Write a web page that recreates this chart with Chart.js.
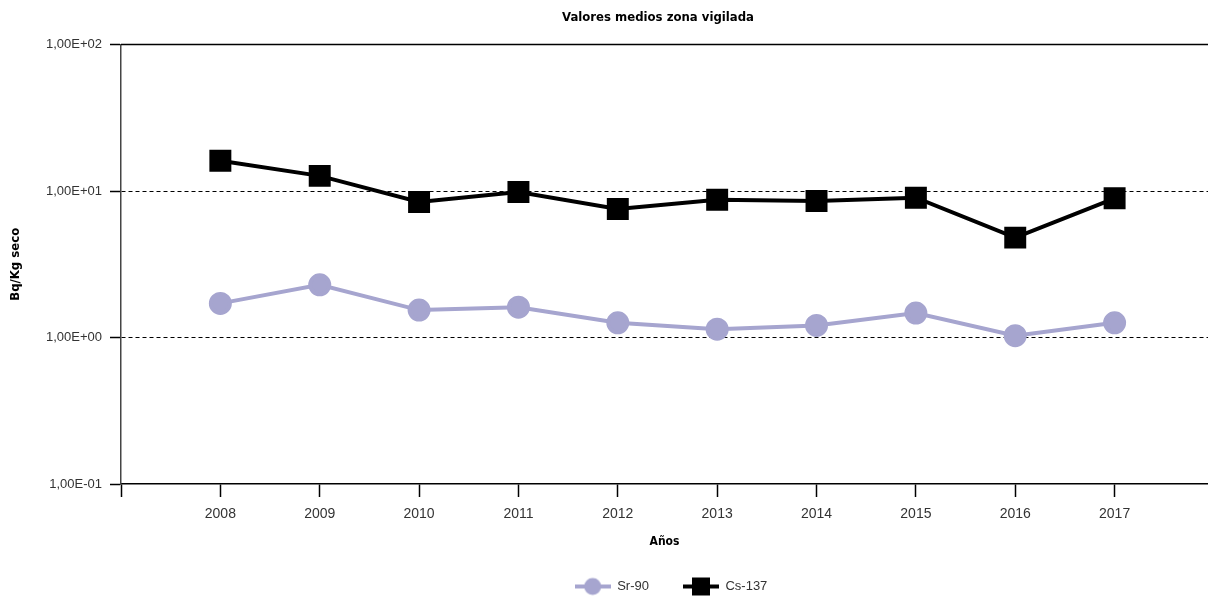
<!DOCTYPE html>
<html>
<head>
<meta charset="utf-8">
<script src="https://cdn.jsdelivr.net/npm/chart.js@4"></script>
<style>
  html, body { margin: 0; padding: 0; background: #fff; overflow: hidden; }
  #wrap { width: 1208px; height: 596px; position: relative; }
  canvas { display: block; }
</style>
</head>
<body>
<div id="wrap"><canvas id="chart"></canvas></div>
<script>
// data
const years = [2008, 2009, 2010, 2011, 2012, 2013, 2014, 2015, 2016, 2017];
const sr90 = [1.71, 2.29, 1.54, 1.61, 1.26, 1.14, 1.21, 1.47, 1.03, 1.26];
const cs137 = [16.1, 12.7, 8.42, 9.85, 7.55, 8.73, 8.55, 9.0, 4.81, 8.92];
const yTicks = [0.1, 1, 10, 100];
const xTicks = [2007, 2008, 2009, 2010, 2011, 2012, 2013, 2014, 2015, 2016, 2017];

const srColor = '#a6a5cf';
const narrow = "'Liberation Sans Narrow', 'DejaVu Sans Condensed', sans-serif";
const plain = "'Liberation Sans', sans-serif";

// little line + marker pictures for the legend
function legendIcon(color, shape) {
  const c = document.createElement('canvas');
  c.width = 36; c.height = 20;
  const g = c.getContext('2d');
  g.strokeStyle = color;
  g.lineWidth = 4;
  g.beginPath(); g.moveTo(0, 10); g.lineTo(36, 10); g.stroke();
  g.fillStyle = color;
  if (shape === 'circle') {
    g.beginPath(); g.arc(18, 10, 8.5, 0, Math.PI * 2); g.fill();
  } else {
    g.fillRect(9, 1, 18, 18);
  }
  return c;
}
const icons = [legendIcon(srColor, 'circle'), legendIcon('#000', 'rect')];

function toPoints(vals) {
  return years.map((y, i) => ({ x: y, y: vals[i] }));
}

function sci(v) {
  const e = Math.round(Math.log10(v));
  const sign = e < 0 ? '-' : '+';
  return '1,00E' + sign + String(Math.abs(e)).padStart(2, '0');
}

const tweaks = {
  id: 'tweaks',
  afterLayout(chart) {
    // title and legend in the reference sit right of the canvas centre
    if (chart.legend) {
      chart.legend.left += 67;
      chart.legend.right += 67;
    }
    if (chart.titleBlock) {
      chart.titleBlock.left += 54;
      chart.titleBlock.right += 54;
    }
  },
  afterDraw(chart) {
    const { ctx, chartArea } = chart;
    ctx.save();
    ctx.strokeStyle = '#000';
    ctx.lineWidth = 1.5;
    ctx.beginPath();
    ctx.moveTo(chartArea.left, chartArea.top);
    ctx.lineTo(chartArea.right, chartArea.top);
    ctx.stroke();
    ctx.restore();
  }
};

new Chart(document.getElementById('chart'), {
  type: 'line',
  data: {
    datasets: [{
      label: 'Sr-90',
      data: toPoints(sr90),
      borderColor: srColor,
      backgroundColor: srColor,
      borderWidth: 4,
      pointStyle: 'circle',
      pointRadius: 9.5,
      pointHoverRadius: 9.5,
      tension: 0
    }, {
      label: 'Cs-137',
      data: toPoints(cs137),
      borderColor: '#000',
      backgroundColor: '#000',
      borderWidth: 4,
      pointStyle: 'rect',
      pointRadius: 12.7,
      pointHoverRadius: 12.7,
      tension: 0
    }]
  },
  options: {
    responsive: true,
    maintainAspectRatio: false,
    animation: false,
    layout: { autoPadding: false, padding: { left: 0, right: 0, top: 0, bottom: -7 } },
    plugins: {
      title: {
        display: true,
        text: 'Valores medios zona vigilada',
        color: '#000',
        font: { family: narrow, size: 13, weight: 'bold' },
        padding: { top: 10, bottom: 19 }
      },
      legend: {
        position: 'bottom',
        labels: {
          usePointStyle: true,
          pointStyleWidth: 36,
          padding: 34,
          color: '#333',
          font: { family: plain, size: 13 },
          generateLabels(chart) {
            return chart.data.datasets.map((ds, i) => ({
              text: ds.label,
              pointStyle: icons[i],
              fillStyle: ds.backgroundColor,
              strokeStyle: ds.borderColor,
              lineWidth: 0,
              fontColor: '#333',
              datasetIndex: i
            }));
          }
        }
      },
      tooltip: { enabled: false }
    },
    scales: {
      x: {
        type: 'linear',
        min: 2007,
        max: 2017.94,
        afterBuildTicks(scale) {
          scale.ticks = xTicks.map(v => ({ value: v }));
        },
        afterFit(scale) { scale.height = 62; },
        ticks: {
          color: '#333',
          font: { family: plain, size: 14 },
          padding: 9,
          maxRotation: 0,
          callback: v => (v === 2007 ? '' : String(v))
        },
        grid: {
          drawOnChartArea: false,
          drawTicks: true,
          tickLength: 13,
          tickColor: '#000',
          tickWidth: 1.5
        },
        border: { color: '#000', width: 1.5 },
        title: {
          display: true,
          text: 'Años',
          color: '#000',
          font: { family: narrow, size: 12, weight: 'bold' },
          padding: { top: 4, bottom: -3 }
        }
      },
      y: {
        type: 'logarithmic',
        min: 0.1,
        max: 100,
        afterBuildTicks(scale) {
          scale.ticks = yTicks.map(v => ({ value: v }));
        },
        afterFit(scale) { scale.width = 121; },
        ticks: {
          color: '#333',
          font: { family: plain, size: 13 },
          padding: 8,
          callback: v => sci(v)
        },
        grid: {
          color: ctx => (ctx.tick && (ctx.tick.value === 1 || ctx.tick.value === 10)) ? '#000' : 'rgba(0,0,0,0)',
          lineWidth: 1,
          tickLength: 11,
          tickColor: '#000',
          tickWidth: 1.5,
          tickBorderDash: []
        },
        border: { color: '#444', width: 1.5, dash: [4, 3] },
        title: {
          display: true,
          text: 'Bq/Kg seco',
          color: '#000',
          font: { family: narrow, size: 13, weight: 'bold' },
          padding: { top: 8, bottom: 0 }
        }
      }
    }
  },
  plugins: [tweaks]
});
</script>
</body>
</html>
